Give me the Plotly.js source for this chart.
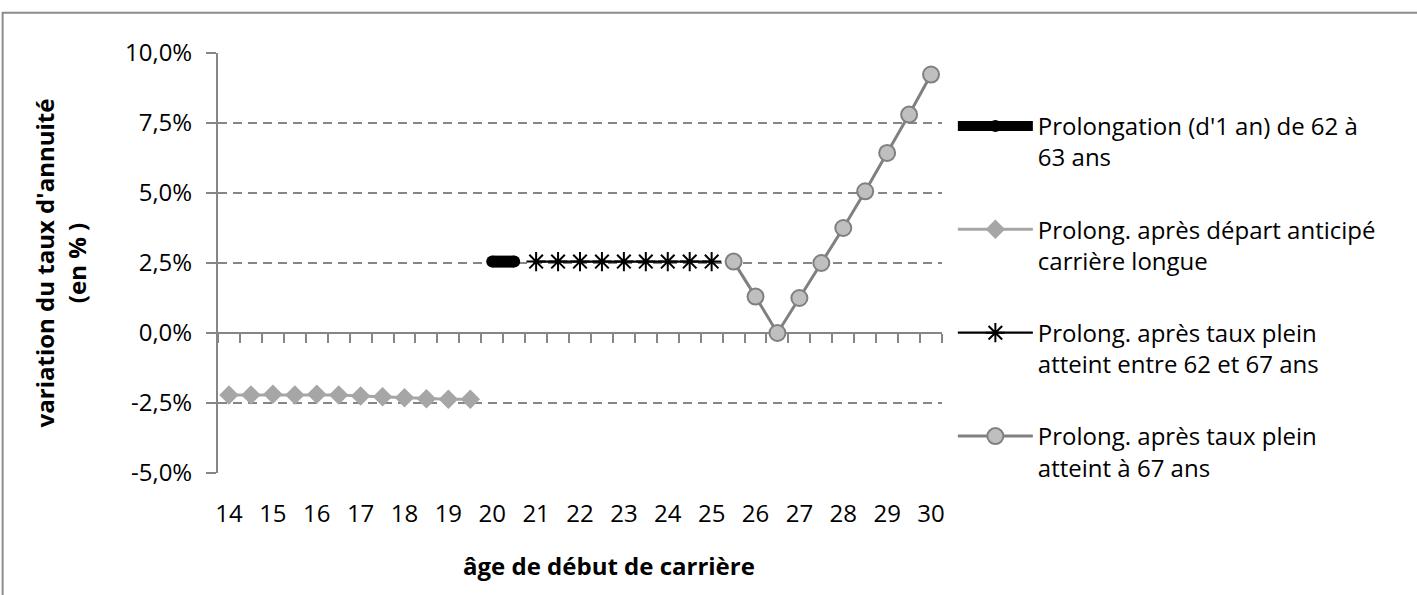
<!DOCTYPE html>
<html>
<head>
<meta charset="utf-8">
<script src="https://cdn.plot.ly/plotly-3.0.1.min.js"></script>
<style>html,body{margin:0;padding:0;background:#fff;}#chart{width:1417px;height:595px;}</style>
</head>
<body>
<div id="chart"></div>
<script>
// Catégories : âge de début de carrière (pas d'une demi-année)
var ages = [14,14.5,15,15.5,16,16.5,17,17.5,18,18.5,19,19.5,20,20.5,21,21.5,22,22.5,23,23.5,24,24.5,25,25.5,26,26.5,27,27.5,28,28.5,29,29.5,30];
var tickAges = [14,15,16,17,18,19,20,21,22,23,24,25,26,27,28,29,30];
var yTickVals = [-5,-2.5,0,2.5,5,7.5,10];
var yTickText = ['-5,0%','-2,5%','0,0%','2,5%','5,0%','7,5%','10,0%'];

// Séries (variation du taux d'annuité, en %)
var prolong62a63 = [null,null,null,null,null,null,null,null,null,null,null,null,2.55,2.55,null,null,null,null,null,null,null,null,null,null,null,null,null,null,null,null,null,null,null];
var departAnticipe = [-2.21,-2.21,-2.19,-2.21,-2.19,-2.21,-2.25,-2.28,-2.31,-2.35,-2.37,-2.37,null,null,null,null,null,null,null,null,null,null,null,null,null,null,null,null,null,null,null,null,null];
var tauxPleinEntre = [null,null,null,null,null,null,null,null,null,null,null,null,null,null,2.55,2.55,2.55,2.55,2.55,2.55,2.55,2.55,2.55,null,null,null,null,null,null,null,null,null,null];
var tauxPlein67 = [null,null,null,null,null,null,null,null,null,null,null,null,null,null,null,null,null,null,null,null,null,null,null,2.55,1.3,0,1.25,2.5,3.75,5.06,6.43,7.8,9.23];

var names = [
  "Prolongation (d'1 an) de 62 à<br>63 ans",
  "Prolong. après départ anticipé<br>carrière longue",
  "Prolong. après taux plein<br>atteint entre 62 et 67 ans",
  "Prolong. après taux plein<br>atteint à 67 ans"
];
var xTitle = 'âge de début de carrière';
var yTitle = "variation du taux d'annuité<br>(en % )";

var FONT = '"Open Sans", Lato, sans-serif';
var GRID = '#868686';
var FS = 24;

var traces = [
  {x: ages, y: prolong62a63, name: names[0], legendgroup: 'a', mode: 'lines+markers',
   line: {color: '#000000', width: 12}, marker: {symbol: 'circle', size: 12, color: '#000000'}},
  {x: ages, y: departAnticipe, name: names[1], legendgroup: 'b', mode: 'lines+markers',
   line: {color: '#A6A6A6', width: 3}, marker: {symbol: 'diamond', size: 15, color: '#A6A6A6'}},
  {x: ages, y: tauxPleinEntre, name: names[2], legendgroup: 'c', mode: 'lines+markers',
   line: {color: '#000000', width: 2.2}, marker: {symbol: 'asterisk-open', size: 16, line: {color: '#000000', width: 2}}},
  {x: ages, y: tauxPlein67, name: names[3], legendgroup: 'd', mode: 'lines+markers', xaxis: 'x2',
   line: {color: '#808080', width: 3}, marker: {symbol: 'circle', size: 16, color: '#BFBFBF', line: {color: '#808080', width: 2}}}
];

var layout = {
  width: 1417, height: 595,
  margin: {l: 218, r: 475, t: 53, b: 122},
  paper_bgcolor: '#ffffff', plot_bgcolor: '#ffffff',
  separators: ',.',
  font: {family: FONT, size: FS, color: '#000000'},
  showlegend: true,
  legend: {x: 1.015, xanchor: 'left', y: 0.879, yanchor: 'top', valign: 'top',
           itemwidth: 75, tracegroupgap: 38, font: {family: FONT, size: FS, color: '#000000'},
           bgcolor: 'rgba(0,0,0,0)', borderwidth: 0},
  xaxis: {
    range: [13.75, 30.25], fixedrange: true,
    tickmode: 'array', tickvals: tickAges, ticktext: tickAges.map(String),
    showline: false, ticks: '', showgrid: false, zeroline: false,
    ticklabelstandoff: 24,
    tickfont: {family: FONT, size: FS, color: '#000000'}
  },
  xaxis2: {
    range: [13.75, 30.25], overlaying: 'x', anchor: 'free', position: 1/3, side: 'bottom',
    showline: true, linecolor: GRID, linewidth: 2, layer: 'below traces',
    ticks: 'outside', ticklen: 9, tickwidth: 2, tickcolor: GRID,
    tickmode: 'linear', tick0: 13.75, dtick: 0.5,
    showticklabels: false, showgrid: false, zeroline: false
  },
  yaxis: {
    range: [-5, 10], fixedrange: true,
    tickmode: 'array', tickvals: yTickVals, ticktext: yTickText,
    showline: true, linecolor: GRID, linewidth: 2,
    ticks: 'outside', ticklen: 10, tickwidth: 2, tickcolor: GRID,
    ticklabelstandoff: 9,
    showgrid: true, gridcolor: GRID, gridwidth: 2, griddash: '9px,6px',
    zeroline: false,
    tickfont: {family: FONT, size: FS, color: '#000000'},
    title: {text: yTitle, font: {family: FONT, size: FS, color: '#000000', weight: 'bold'}, standoff: 32}
  },
  annotations: [
    {text: xTitle, xref: 'paper', yref: 'paper', x: 0.5396, y: -0.22, xanchor: 'center', yanchor: 'middle',
     showarrow: false, font: {family: FONT, size: FS, color: '#000000', weight: 'bold'}}
  ],
  shapes: [
    {type: 'rect', xref: 'paper', yref: 'paper', x0: -0.2975, x1: 1.7, y0: -0.4, y1: 1.0961,
     line: {color: '#8C8C8C', width: 2}, fillcolor: 'rgba(0,0,0,0)', layer: 'below'}
  ]
};

Plotly.newPlot('chart', traces, layout, {staticPlot: true, displayModeBar: false});
</script>
</body>
</html>
